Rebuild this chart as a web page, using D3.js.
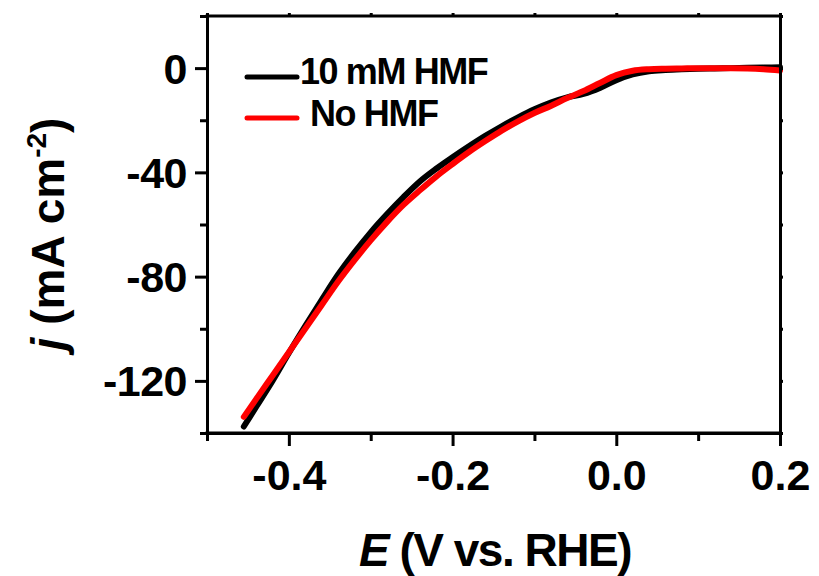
<!DOCTYPE html>
<html>
<head>
<meta charset="utf-8">
<script src="https://cdn.jsdelivr.net/npm/d3@7"></script>
<style>
  body { margin: 0; background: #fff; }
  svg text { font-family: "Liberation Sans", Arial, sans-serif; font-weight: bold; fill: #000; }
</style>
</head>
<body>
<svg id="chart" width="819" height="576"></svg>
<script>
// ---- data ----
const potential = [-0.455, -0.44, -0.42, -0.40, -0.38, -0.36, -0.34, -0.32, -0.30, -0.28, -0.26, -0.24, -0.22, -0.20, -0.18, -0.16, -0.14, -0.12, -0.10, -0.08, -0.06, -0.04, -0.02, 0.00, 0.02, 0.04, 0.06, 0.08, 0.10, 0.12, 0.14, 0.16, 0.18, 0.20];
const withHMF = [-137.5, -130, -120, -109.3, -99, -89, -79.3, -70.8, -63, -56, -49.5, -43.5, -38.6, -34.2, -30.0, -26.0, -22.3, -18.9, -15.8, -13.2, -11.2, -9.9, -7.6, -4.6, -2.4, -1.2, -0.7, -0.4, -0.2, -0.1, 0, 0.1, 0.2, 0.3];
const noHMF = [-133.8, -127, -118, -109, -100, -91, -82, -73.8, -66.1, -59, -52.5, -46.9, -41.6, -36.8, -32.2, -28.0, -24.0, -20.4, -17.2, -14.5, -11.5, -8.8, -5.7, -2.7, -1.0, -0.4, -0.2, -0.1, 0, 0, 0, -0.1, -0.4, -0.9];
const seriesNames = ["10 mM HMF", "No HMF"];
const seriesColors = ["#000000", "#ff0000"];
const xTickLabels = ["-0.4", "-0.2", "0.0", "0.2"];
const xMajorTicks = [-0.4, -0.2, 0.0, 0.2];
const xMinorTicks = [-0.5, -0.3, -0.1, 0.1];
const yTickLabels = ["0", "-40", "-80", "-120"];
const yMajorTicks = [0, -40, -80, -120];
const yMinorTicks = [20, -20, -60, -100, -140];

// ---- layout ----
const L = 207, R = 780, T = 16, B = 433;
const svg = d3.select("#chart");
const x = d3.scaleLinear().domain([-0.5, 0.2]).range([L, R]);
const y = d3.scaleLinear().domain([-140, 20]).range([B, T]);

// curves
const series = [withHMF, noHMF];
const line = d3.line().x(d => x(d[0])).y(d => y(d[1])).curve(d3.curveMonotoneX);
series.forEach((vals, i) => {
  svg.append("path")
    .datum(potential.map((p, k) => [p, vals[k]]))
    .attr("d", line)
    .attr("fill", "none")
    .attr("stroke", seriesColors[i])
    .attr("stroke-width", 6)
    .attr("stroke-linecap", "round")
    .attr("stroke-linejoin", "round");
});

// axes
const fmtX = v => xTickLabels[xMajorTicks.indexOf(v)];
const fmtY = v => yTickLabels[yMajorTicks.indexOf(v)];

const gBottom = svg.append("g").attr("transform", `translate(0,${B})`)
  .call(d3.axisBottom(x).tickValues(xMajorTicks).tickFormat(fmtX).tickSize(13).tickSizeOuter(0));
const gBottomMinor = svg.append("g").attr("transform", `translate(0,${B})`)
  .call(d3.axisBottom(x).tickValues(xMinorTicks).tickFormat("").tickSize(8).tickSizeOuter(0));
const gLeft = svg.append("g").attr("transform", `translate(${L},0)`)
  .call(d3.axisLeft(y).tickValues(yMajorTicks).tickFormat(fmtY).tickSize(12).tickSizeOuter(0));
const gLeftMinor = svg.append("g").attr("transform", `translate(${L},0)`)
  .call(d3.axisLeft(y).tickValues(yMinorTicks).tickFormat("").tickSize(7).tickSizeOuter(0));
const gTop = svg.append("g").attr("transform", `translate(0,${T})`)
  .call(d3.axisTop(x).tickValues(xMajorTicks.concat(xMinorTicks)).tickFormat("").tickSize(3).tickSizeOuter(0));
const gRight = svg.append("g").attr("transform", `translate(${R},0)`)
  .call(d3.axisRight(y).tickValues(yMajorTicks.concat(yMinorTicks)).tickFormat("").tickSize(3).tickSizeOuter(0));

[gBottom, gBottomMinor, gLeft, gLeftMinor, gTop, gRight].forEach(g => {
  g.select(".domain").attr("stroke", "#000").attr("stroke-width", 3);
  g.selectAll(".tick line").attr("stroke", "#000").attr("stroke-width", 3);
});
gBottom.select(".domain").attr("d", `M${L - 1.5},0H${R + 1.5}`);
gTop.select(".domain").attr("d", `M${L - 1.5},0H${R + 1.5}`);

gBottom.selectAll(".tick text").attr("font-size", 43).attr("dy", 0).attr("y", 57)
  .style("font-family", '"Liberation Sans", Arial, sans-serif').style("font-weight", "bold");
gLeft.selectAll(".tick text").attr("font-size", 43).attr("dy", 0).attr("x", -20).attr("y", 15)
  .attr("letter-spacing", -0.5)
  .style("font-family", '"Liberation Sans", Arial, sans-serif').style("font-weight", "bold");

// legend
const legY = [77, 118];
const legTextX = [300, 310];
const legBase = [84, 126];
seriesNames.forEach((name, i) => {
  svg.append("line")
    .attr("x1", 247).attr("x2", 297).attr("y1", legY[i]).attr("y2", legY[i])
    .attr("stroke", seriesColors[i]).attr("stroke-width", 5).attr("stroke-linecap", "round");
  svg.append("text").attr("x", legTextX[i]).attr("y", legBase[i])
    .attr("font-size", 36).attr("letter-spacing", -1.4).text(name);
});

// axis titles
const xt = svg.append("text").attr("x", 495).attr("y", 566).attr("text-anchor", "middle")
  .attr("font-size", 46).attr("letter-spacing", -1.5);
xt.append("tspan").attr("font-style", "italic").text("E");
xt.append("tspan").text(" (V vs. RHE)");

const yt = svg.append("text").attr("transform", "translate(64,234) rotate(-90)")
  .attr("text-anchor", "middle").attr("font-size", 46);
yt.append("tspan").attr("font-style", "italic").text("j");
yt.append("tspan").text(" (mA cm");
yt.append("tspan").attr("font-size", 28).attr("dy", -18).text("-2");
yt.append("tspan").attr("dy", 18).text(")");
</script>
</body>
</html>
